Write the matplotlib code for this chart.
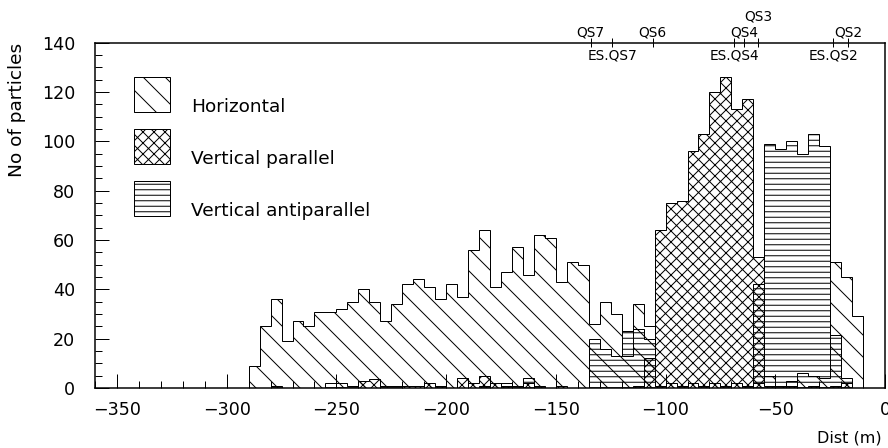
import numpy as np
import matplotlib
matplotlib.use("Agg")
import matplotlib.pyplot as plt
from matplotlib.patches import Rectangle

# hatch spacing in Agg scales with dpi, 66 gives the PAW-like density
DPI = 66


def pt(px):
    # pixel size -> points at our dpi
    return px * 72.0 / DPI


# 5 m bins from -290 to -10
bin_edges = np.arange(-290, -5, 5)

horizontal = [9, 25, 36, 19, 27, 25, 31, 31, 32, 35,
              40, 35, 27, 34, 42, 44, 41, 36, 42, 37,
              56, 64, 41, 47, 57, 46, 62, 61, 43, 51,
              50, 26, 35, 30, 13, 34, 25, 1, 2, 1,
              2, 1, 2, 1, 2, 1, 2, 5, 1, 3,
              6, 5, 4, 51, 45, 29]

vert_parallel = [0, 0, 0, 0, 0, 0, 0, 0, 0, 0,
                 3, 3.5, 0, 0, 1, 1, 2, 1, 0, 4,
                 2, 5, 2, 1, 0, 2, 0, 0, 1, 0,
                 0, 0, 0, 0, 0, 1, 12, 64, 75, 76,
                 96, 103, 120, 126, 113, 117, 53, 1, 0, 1,
                 0, 1, 0, 1, 2, 0]

vert_antiparallel = [0, 0, 1, 0, 0, 0, 0, 2, 2, 1,
                     0, 0, 1, 1, 0, 0, 0, 1, 0, 0,
                     0, 1, 0, 2, 1, 4, 1, 0, 0, 0,
                     0, 20, 16, 13, 23, 24, 20, 1, 0, 1,
                     0, 1, 0, 1, 0, 1, 42, 99, 97, 100,
                     95, 103, 98, 21.5, 4, 0]

series_names = ["Horizontal", "Vertical parallel", "Vertical antiparallel"]
hatches = ["\\", "xx", "--"]

# quadrupole positions marked on the top axis
magnet_names = ["QS7", "ES.QS7", "QS6", "ES.QS4", "QS4", "QS3", "ES.QS2", "QS2"]
magnet_pos = [-134.2, -124.4, -105.9, -68.7, -64.1, -57.7, -23.6, -16.7]

plt.rcParams["font.family"] = ["DejaVu Sans"]
plt.rcParams["hatch.linewidth"] = pt(1.0)
plt.rcParams["hatch.color"] = "black"

W, H = 888, 448
fig = plt.figure(figsize=(W / DPI, H / DPI), dpi=DPI)
ax = fig.add_axes([95 / W, 1 - 388 / H, 790 / W, 345.3 / H])

data = [horizontal, vert_parallel, vert_antiparallel]
for vals, h in zip(data, hatches):
    ax.stairs(vals, bin_edges, fill=True, facecolor="none", edgecolor="black",
              hatch=h, linewidth=pt(1.0))

ax.set_xlim(-360, 0)
ax.set_ylim(0, 140)
ax.set_xticks(np.arange(-350, 1, 50))
ax.set_xticks(np.arange(-360, 1, 10), minor=True)
ax.set_yticks(np.arange(0, 141, 20))
ax.set_yticks(np.arange(0, 141, 5), minor=True)
ax.tick_params(which="both", direction="in", top=False, right=False,
               width=pt(1), labelsize=pt(17.5), colors="black")
ax.tick_params(which="major", length=pt(14))
ax.tick_params(which="minor", length=pt(7))
ax.tick_params(axis="x", pad=pt(13))
ax.tick_params(axis="y", pad=pt(20))
for s in ax.spines.values():
    s.set_linewidth(pt(1.5))

ax.set_ylabel("No of particles", loc="top", fontsize=pt(18.5))
ax.yaxis.set_label_coords(-0.0873, 1.0)
fig.text(882 / W, 1 - 438 / H, "Dist (m)", ha="right", va="center", fontsize=pt(16))

# legend boxes drawn by hand, PAW style
for i, (name, h) in enumerate(zip(series_names, hatches)):
    y0 = 0.799 - i * 0.1505
    ax.add_patch(Rectangle((0.049, y0), 0.0456, 0.101, transform=ax.transAxes,
                           facecolor="none", edgecolor="black", hatch=h,
                           linewidth=pt(1.0)))
    ax.text(0.1215, y0 + 0.016, name, transform=ax.transAxes, ha="left",
            va="center", fontsize=pt(18.5))

# magnet ticks and names above the frame
ax.vlines(magnet_pos, 138.2, 141.9, colors="black", linewidth=pt(1), clip_on=False)
for name, x in zip(magnet_names, magnet_pos):
    if name.startswith("ES."):
        y = 133.0
    elif name == "QS3":
        y = 148.8
    else:
        y = 142.4
    ax.text(x, y, name, ha="center", va="baseline", fontsize=pt(13.7))

fig.savefig("out.png", dpi=DPI)
